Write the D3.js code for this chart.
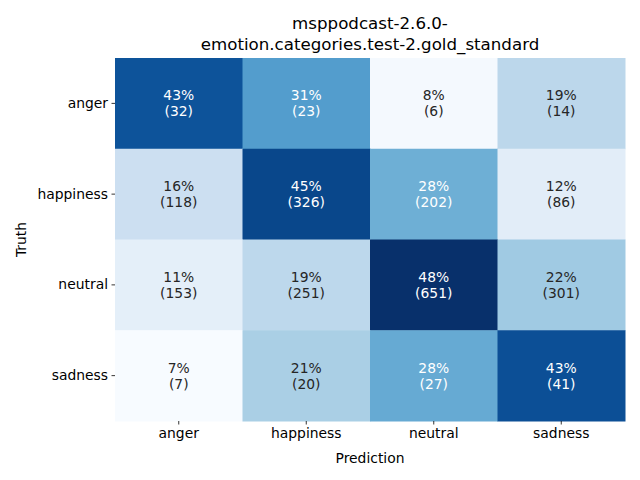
<!DOCTYPE html>
<html><head><meta charset="utf-8">
<script src="https://cdn.jsdelivr.net/npm/d3@7"></script>
<style>body{margin:0;background:#fff}svg{display:block}text{font-family:"DejaVu Sans",sans-serif}</style>
</head><body>
<svg id="c" width="640" height="480"></svg>
<script>
const titleLines = ["msppodcast-2.6.0-", "emotion.categories.test-2.gold_standard"];
const truthLabels = ["anger", "happiness", "neutral", "sadness"];
const predLabels = ["anger", "happiness", "neutral", "sadness"];
const countsAnger = [32, 23, 6, 14];
const countsHappiness = [118, 326, 202, 86];
const countsNeutral = [153, 251, 651, 301];
const countsSadness = [7, 20, 27, 41];
const counts = [countsAnger, countsHappiness, countsNeutral, countsSadness];

const svg = d3.select("#c");
const m = {l:115, r:625, t:58, b:421};
const x = d3.scaleBand().domain(predLabels).range([m.l, m.r]);
const y = d3.scaleBand().domain(truthLabels).range([m.t, m.b]);
const fs = 13.89;

const cells = [];
counts.forEach((row, i) => {
  const tot = d3.sum(row);
  row.forEach((v, j) => cells.push({t: truthLabels[i], p: predLabels[j], n: v, pct: 100 * v / tot}));
});
const color = d3.scaleSequential(d3.interpolateBlues).domain(d3.extent(cells, d => d.pct));

svg.selectAll("rect.cell").data(cells).join("rect")
  .attr("x", d => x(d.p)).attr("y", d => y(d.t))
  .attr("width", x.bandwidth() + 0.5).attr("height", y.bandwidth() + 0.5)
  .attr("fill", d => color(d.pct));

function lum(c) {
  const rgb = d3.rgb(c);
  const f = v => { v /= 255; return v <= 0.03928 ? v / 12.92 : Math.pow((v + 0.055) / 1.055, 2.4); };
  return 0.2126 * f(rgb.r) + 0.7152 * f(rgb.g) + 0.0722 * f(rgb.b);
}

const g = svg.selectAll("g.ann").data(cells).join("g")
  .attr("transform", d => `translate(${x(d.p) + x.bandwidth()/2},${y(d.t) + y.bandwidth()/2})`);
g.append("text").attr("text-anchor", "middle").attr("y", -3).attr("font-size", fs)
  .attr("fill", d => lum(color(d.pct)) > 0.408 ? "#262626" : "#ffffff")
  .text(d => Math.round(d.pct) + "%");
g.append("text").attr("text-anchor", "middle").attr("y", 13).attr("font-size", fs)
  .attr("fill", d => lum(color(d.pct)) > 0.408 ? "#262626" : "#ffffff")
  .text(d => "(" + d.n + ")");

const xAxis = svg.append("g").attr("transform", `translate(0,${m.b})`)
  .call(d3.axisBottom(x).tickSize(3.5).tickPadding(3.5));
const yAxis = svg.append("g").attr("transform", `translate(${m.l},0)`)
  .call(d3.axisLeft(y).tickSize(3.5).tickPadding(3.5));
[xAxis, yAxis].forEach(a => {
  a.select(".domain").remove();
  a.selectAll("text").attr("font-size", fs).attr("fill", "#000").attr("font-family", "DejaVu Sans");
  a.selectAll("line").attr("stroke", "#000").attr("stroke-width", 0.8);
});
yAxis.selectAll("text").attr("dy", "0.32em");

svg.append("text").attr("x", (m.l + m.r)/2).attr("y", 463).attr("text-anchor", "middle")
  .attr("font-size", fs).text("Prediction");
svg.append("text").attr("transform", `translate(26,${(m.t + m.b)/2}) rotate(-90)`).attr("text-anchor", "middle")
  .attr("font-size", fs).text("Truth");

svg.selectAll("text.title").data(titleLines).join("text").attr("class", "title")
  .attr("x", (m.l + m.r)/2).attr("y", (d, i) => 29 + i * 21).attr("text-anchor", "middle")
  .attr("font-size", 16.67).text(d => d);
</script>
</body></html>
